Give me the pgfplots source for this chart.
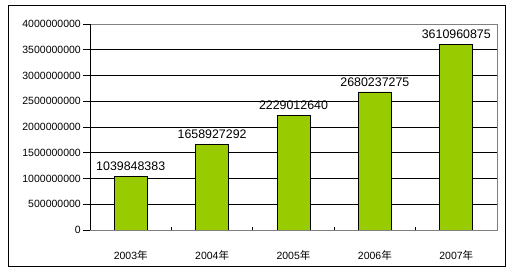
\documentclass[border=0pt]{standalone}
\usepackage{pgfplots}
\pgfplotsset{compat=1.18}
\usepackage{fontspec}
\setmainfont{Liberation Sans}
\newfontfamily\cjk{Noto Sans CJK SC}
\definecolor{bargreen}{HTML}{99CC00}
\begin{document}
\begin{tikzpicture}
\useasboundingbox (0,0) rectangle (512bp,277bp);
\fill[white] (0,0) rectangle (512bp,277bp);
\draw[black, line width=1bp] (8.5bp,10.5bp) rectangle (505.5bp,271.5bp);
\begin{axis}[
  at={(90bp,47bp)}, anchor=south west,
  scale only axis, width=407bp, height=206bp,
  xmin=-0.5, xmax=4.5, ymin=0, ymax=4000000000,
  ytick={0,500000000,1000000000,1500000000,2000000000,2500000000,3000000000,3500000000,4000000000},
  yticklabels={0,500000000,1000000000,1500000000,2000000000,2500000000,3000000000,3500000000,4000000000},
  scaled y ticks=false,
  xtick={0,1,2,3,4},
  xticklabels={2003{\cjk 年},2004{\cjk 年},2005{\cjk 年},2006{\cjk 年},2007{\cjk 年}},
  xtick style={draw=none},
  ytick style={black, line width=0.8bp},
  tick align=outside,
  major tick length=7bp,
  ytick pos=left,
  ymajorgrids,
  grid style={black, line width=0.8bp},
  axis line style={gray, line width=0.8bp},
  yticklabel style={font=\fontsize{10.5bp}{12bp}\selectfont, inner sep=0pt, anchor=east, xshift=-2bp},
  xticklabel style={font=\fontsize{10.5bp}{12bp}\selectfont, inner sep=0pt, anchor=center, yshift=-18bp},
]
\addplot[ybar, bar width=33bp, fill=bargreen, draw=black, line width=0.9bp,
  nodes near coords, point meta=explicit symbolic,
  every node near coord/.style={font=\fontsize{12.4bp}{14bp}\selectfont, inner sep=0pt, anchor=south, yshift=5bp, black}]
  table[x=x, y=y, meta=label] {
x y label
0 1039848383 1039848383
1 1658927292 1658927292
2 2229012640 2229012640
3 2680237275 2680237275
4 3610960875 3610960875
};
\draw[black, line width=0.8bp] (rel axis cs:0,1) -- (rel axis cs:0,0) -- (rel axis cs:1,0);
\pgfplotsinvokeforeach{0.5,1.5,2.5,3.5}{
  \draw[black, line width=0.8bp] (axis cs:#1,0) -- ([yshift=3bp]axis cs:#1,0);
}
\end{axis}
\end{tikzpicture}
\end{document}
